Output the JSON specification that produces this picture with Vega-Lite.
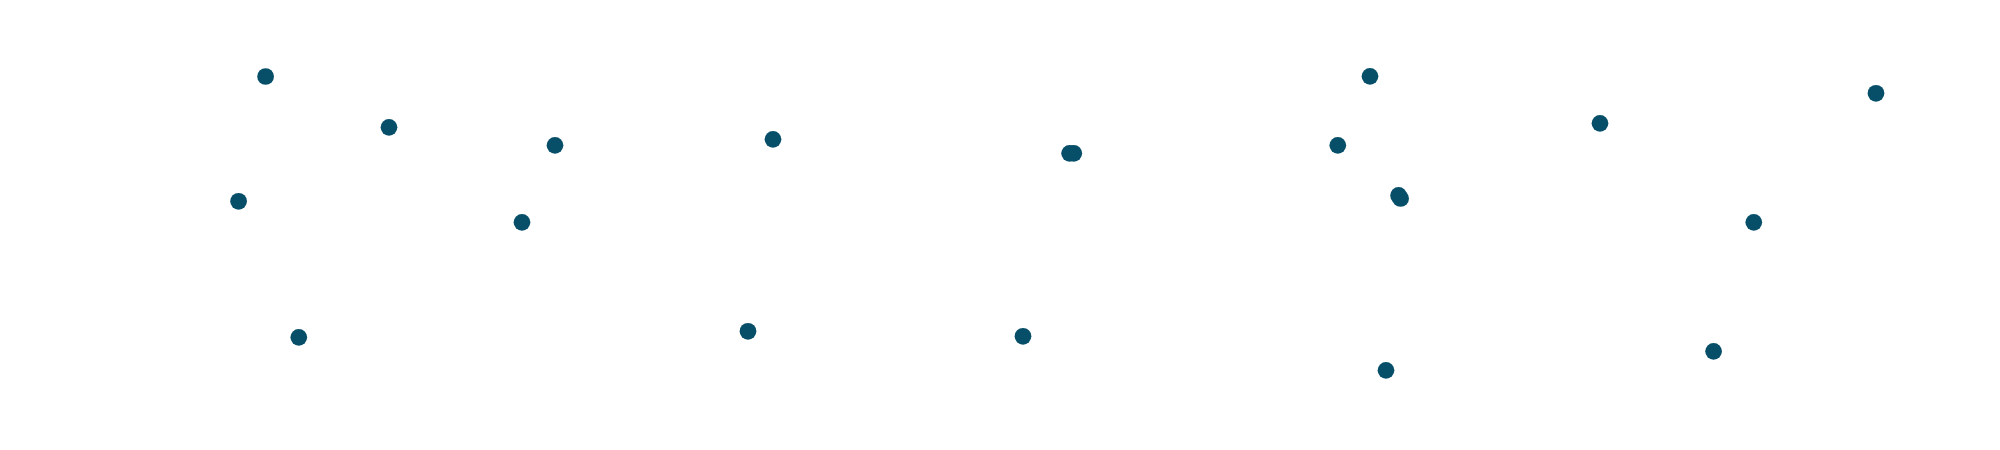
{
  "$schema": "https://vega.github.io/schema/vega-lite/v6.json",
  "width": 2000,
  "height": 450,
  "padding": 0,
  "autosize": {"type": "fit", "contains": "padding"},
  "background": "white",
  "config": {"view": {"stroke": null}},
  "data": {"values": [
    {"x": 13.28, "y": 83.0},
    {"x": 19.45, "y": 71.71},
    {"x": 27.75, "y": 67.71},
    {"x": 38.65, "y": 69.04},
    {"x": 11.93, "y": 55.27},
    {"x": 26.1, "y": 50.6},
    {"x": 14.94, "y": 25.04},
    {"x": 37.4, "y": 26.38},
    {"x": 53.48, "y": 65.93},
    {"x": 53.69, "y": 65.93},
    {"x": 68.5, "y": 83.04},
    {"x": 93.8, "y": 79.27},
    {"x": 80.0, "y": 72.6},
    {"x": 66.89, "y": 67.71},
    {"x": 69.93, "y": 56.56},
    {"x": 70.03, "y": 55.89},
    {"x": 87.69, "y": 50.6},
    {"x": 51.15, "y": 25.27},
    {"x": 69.3, "y": 17.71},
    {"x": 85.68, "y": 21.93}
  ]},
  "mark": {"type": "circle", "size": 280, "opacity": 1, "color": "#074f69"},
  "encoding": {
    "x": {"field": "x", "type": "quantitative", "scale": {"domain": [0, 100], "nice": false, "zero": false}, "axis": null},
    "y": {"field": "y", "type": "quantitative", "scale": {"domain": [0, 100], "nice": false, "zero": false}, "axis": null}
  }
}
